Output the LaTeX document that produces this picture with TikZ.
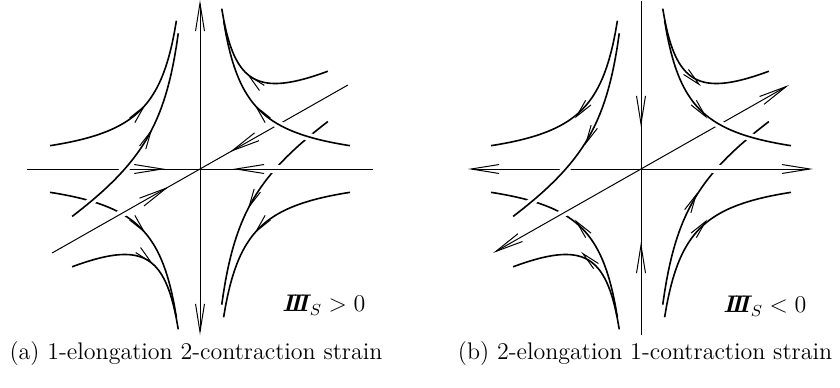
\documentclass[tikz,border=0pt]{standalone}
\usepackage{bm}
\usetikzlibrary{arrows.meta, decorations.markings}
\tikzset{
  view/.style={x={(0.5pt,0pt)}, y={(0.435pt,0.247pt)}, z={(0pt,0.5pt)}},
  axis/.style={line width=0.5pt},
  curve/.style={line width=0.8pt},
  gap/.style={draw=white, line width=4pt},
  axtip/.tip={Straight Barb[length=14pt, width=4.5pt]},
  fltip/.tip={Straight Barb[length=9pt, width=3.5pt, line width=0.5pt]},
  mid/.style={postaction={decorate, decoration={markings, mark=at position #1 with {\arrow{axtip}}}}},
  flowin/.style={postaction={decorate, decoration={markings, mark=at position #1 with {\arrow{fltip}}}}},
  flowout/.style={postaction={decorate, decoration={markings, mark=at position #1 with {\pgftransformxshift{-9pt}\arrowreversed{fltip}}}}},
  flow/.style={flowin=#1},
  caption/.style={font=\large},
  inv/.style={font=\large},
  % branches lying behind
  pics/behind/.style={code={
    \draw[curve, flow=0.545] plot[domain=147:25, samples=60] (0,\x,{3700/\x});
    \draw[curve, flow=0.545] plot[domain=147:25, samples=60] (0,\x,{-3700/\x});
    \draw[curve, flow=0.54] plot[domain=150:23.6, samples=60] (-\x,0,{-3500/\x});
  }},
  % branches in front
  pics/front/.style={code={
    \draw[gap] plot[domain=125:65, samples=30] (\x,0,{3500/\x});
    \draw[curve, flow=0.54] plot[domain=150:23.6, samples=60] (\x,0,{3500/\x});
    \draw[curve, flow=0.54] plot[domain=150:23.6, samples=60] (-\x,0,{3500/\x});
    \draw[curve, flow=0.54] plot[domain=150:23.6, samples=60] (\x,0,{-3500/\x});
    \draw[gap] plot[domain=135:70, samples=30] (0,-\x,{3700/\x});
    \draw[curve, flow=0.545] plot[domain=147:25, samples=60] (0,-\x,{3700/\x});
    \draw[curve, flow=0.545] plot[domain=147:25, samples=60] (0,-\x,{-3700/\x});
  }},
}

\begin{document}
\begin{tikzpicture}[x=0.5pt, y=0.5pt]
  \useasboundingbox (0,0) rectangle (840,387);
  % (a) flow out along the vertical axis
  \begin{scope}[shift={(200,218)}, view, flow/.style={flowin=#1}]
    \coordinate (oa) at (0,0,0);
    \pic {behind};
    \draw[axis, mid=0.8] (0,170,0) -- (oa);
    \draw[gap] (65,0,0) -- (86,0,0);
    \draw[axis, mid=0.8] (-173,0,0) -- (oa);
    \draw[axis, mid=0.81] (173,0,0) -- (oa);
    \draw[axis, {axtip}-{axtip}] (0,0,-166) -- (0,0,169);
    \draw[gap] (0,-105,0) -- (0,-75,0);
    \draw[axis, mid=0.79] (0,-170,0) -- (oa);
    \pic {front};
  \end{scope}
  % (b) flow in along the vertical axis
  \begin{scope}[shift={(641,218)}, view, flow/.style={flowout=#1}]
    \coordinate (ob) at (0,0,0);
    \pic {behind};
    \draw[axis, -{axtip}] (ob) -- (0,170,0);
    \draw[gap] (65,0,0) -- (86,0,0);
    \draw[axis, -{axtip}] (ob) -- (-173,0,0);
    \draw[axis, -{axtip}] (ob) -- (172,0,0);
    \draw[axis, mid=0.75] (0,0,168) -- (ob);
    \draw[axis, mid=0.56] (0,0,-166) -- (ob);
    \draw[gap] (0,-105,0) -- (0,-75,0);
    \draw[axis, -{axtip}] (ob) -- (0,-170,0);
    \pic {front};
  \end{scope}
  \node[inv] (inva) at (324,82) {$\bm{I\mkern-5muI\mkern-5muI}_S > 0$};
  \node[inv] (invb) at (765,81) {$\bm{I\mkern-5muI\mkern-5muI}_S < 0$};
  \node[caption] (capa) at (196,33) {(a) 1-elongation 2-contraction strain};
  \node[caption] (capb) at (645,33) {(b) 2-elongation 1-contraction strain};
\end{tikzpicture}
\end{document}
